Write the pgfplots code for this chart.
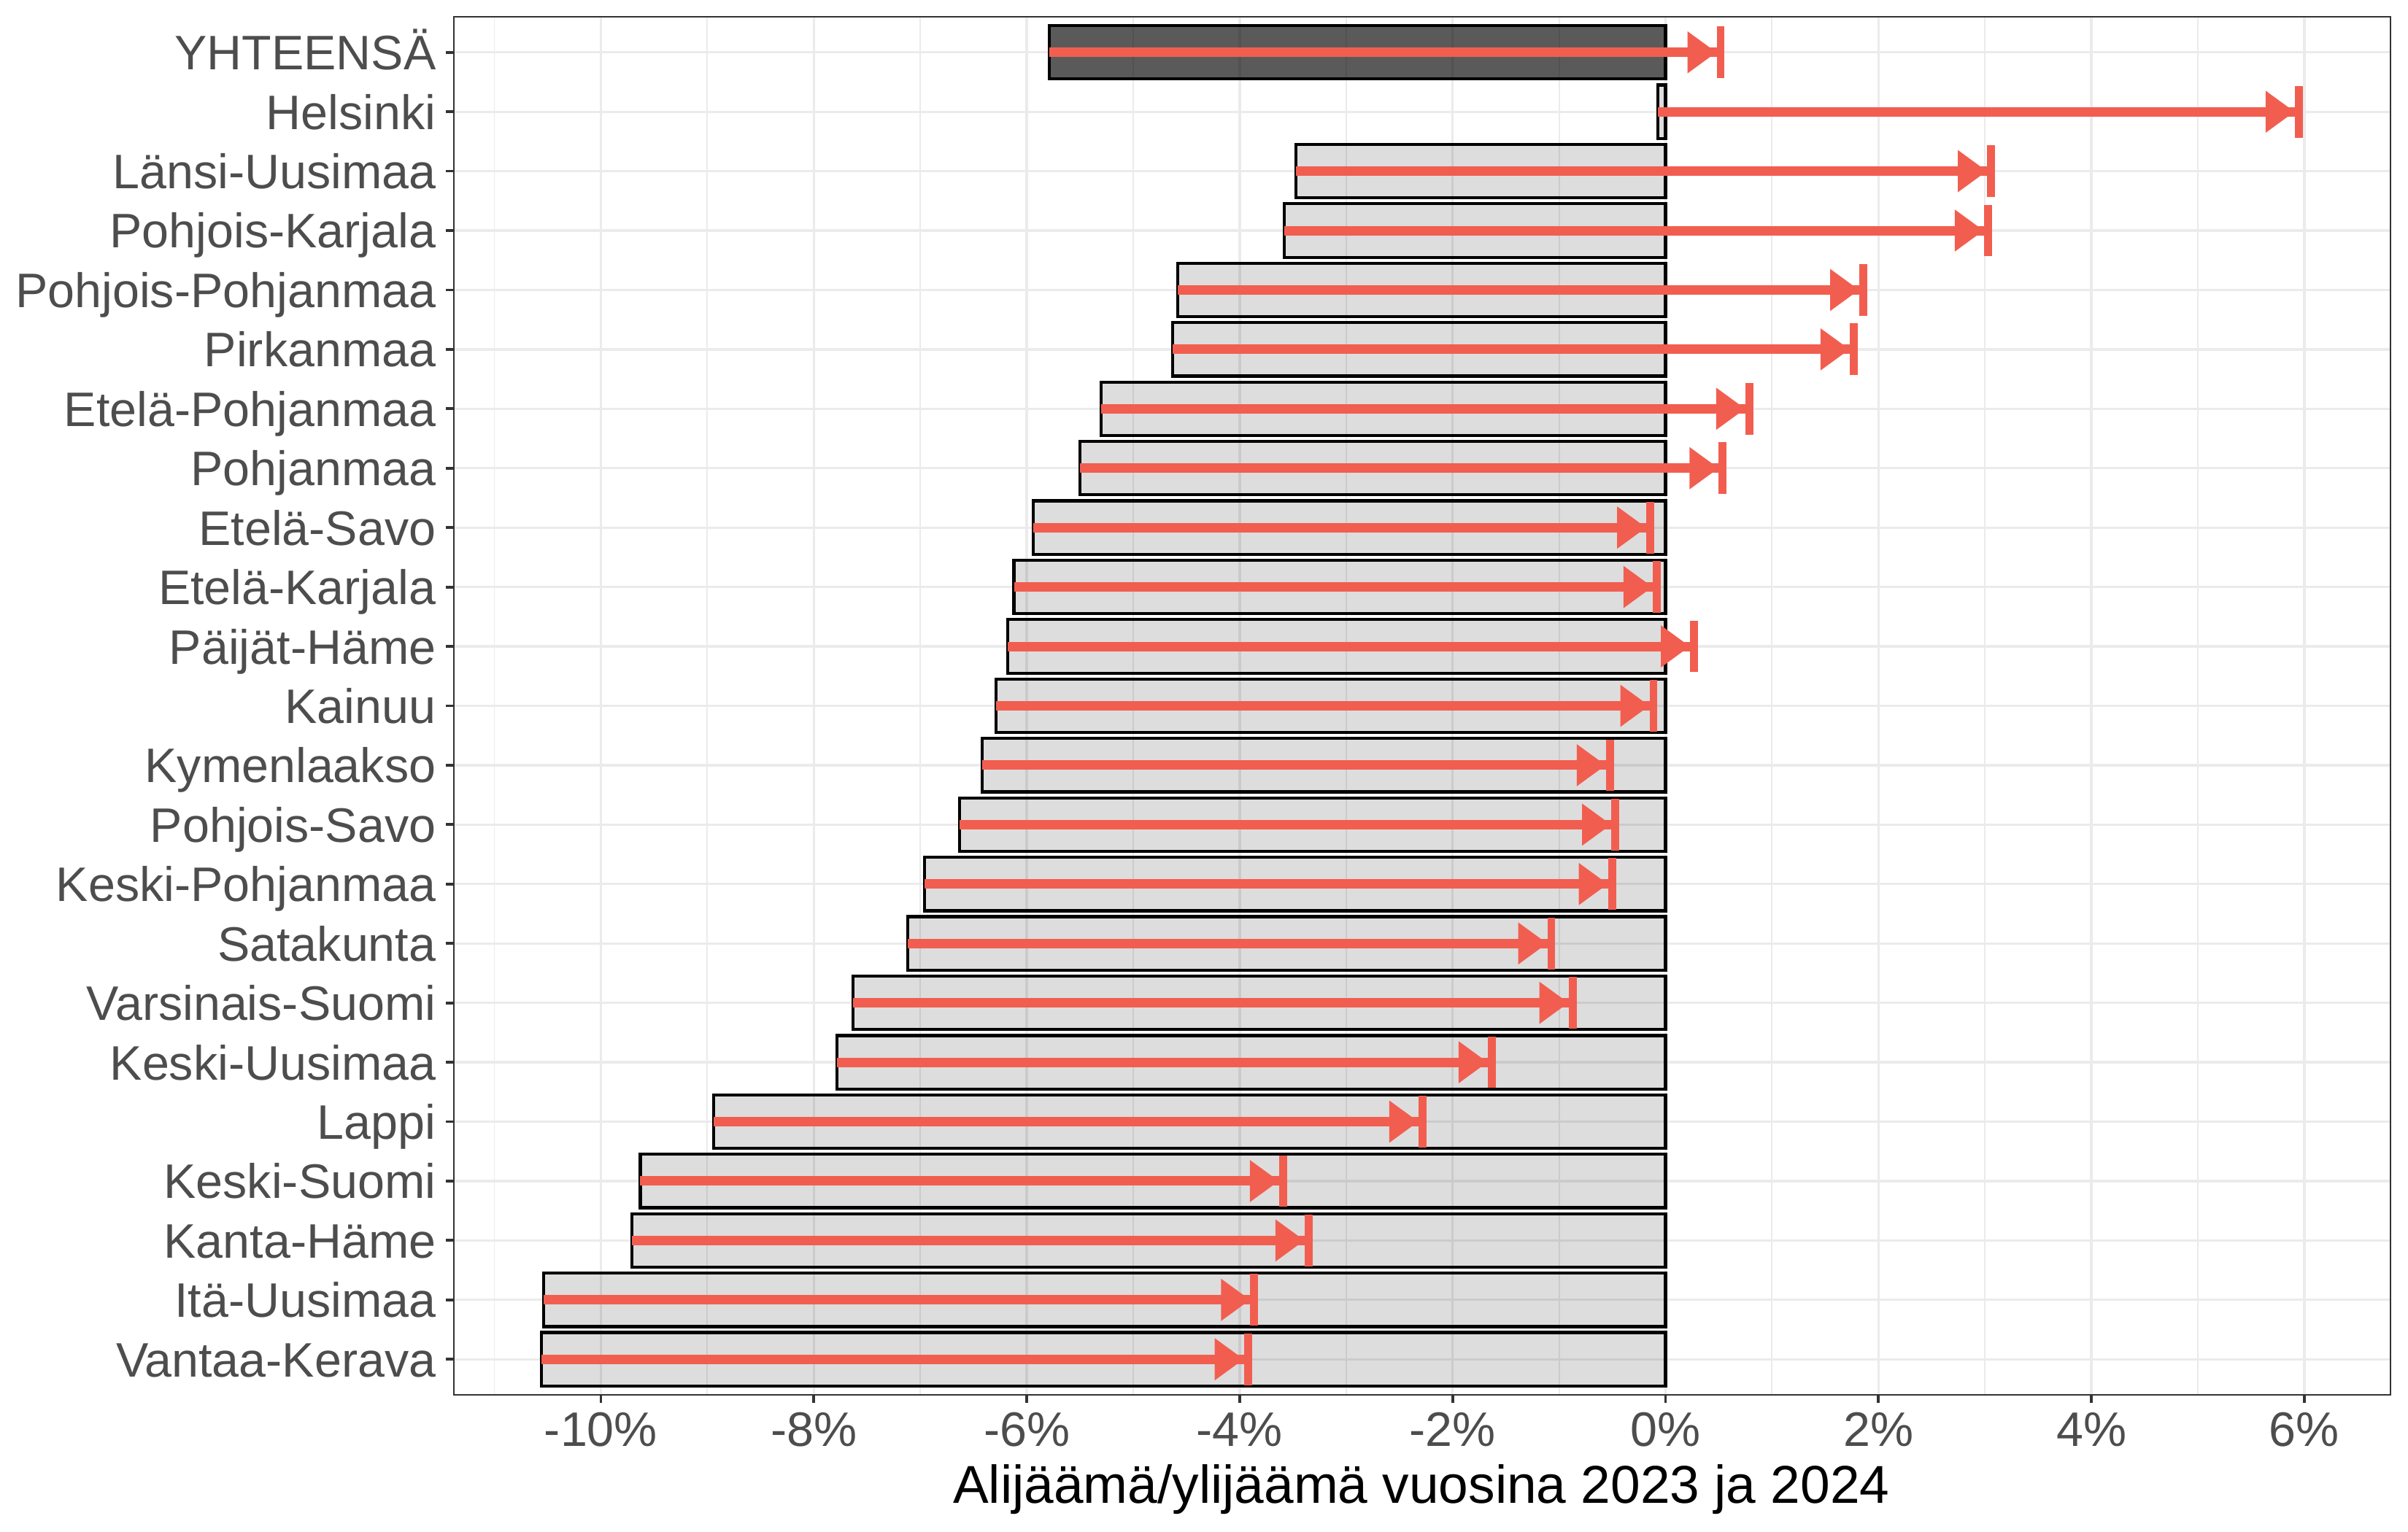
\documentclass[border=0pt]{standalone}
\usepackage{fontspec}
\setmainfont{Liberation Sans}
\usepackage{pgfplots}
\usepackage{pgfplotstable}
\pgfplotsset{compat=1.18}
\usetikzlibrary{arrows.meta}
\definecolor{arr}{RGB}{241,94,80}
\definecolor{gridc}{RGB}{235,235,235}
\definecolor{tickc}{RGB}{51,51,51}
\definecolor{labc}{RGB}{77,77,77}

% y = position (1 = bottom), x0 = 2023, x1 = 2024
\pgfplotstableread{
y x0 x1
1 -10.56 -3.92
2 -10.54 -3.86
3 -9.71 -3.35
4 -9.63 -3.59
5 -8.94 -2.28
6 -7.78 -1.63
7 -7.63 -0.87
8 -7.12 -1.07
9 -6.96 -0.50
10 -6.63 -0.47
11 -6.42 -0.52
12 -6.29 -0.11
13 -6.18 0.27
14 -6.12 -0.08
15 -5.94 -0.14
16 -5.50 0.54
17 -5.30 0.79
18 -4.63 1.77
19 -4.58 1.86
20 -3.58 3.03
21 -3.47 3.06
22 -0.07 5.95
}\regions
\pgfplotstableread{
y x0 x1
23 -5.79 0.52
}\total

\begin{document}
\begin{tikzpicture}
\path[use as bounding box] (0,0) rectangle (792bp,504bp);
\begin{axis}[
  at={(149.3bp,45.1bp)}, anchor=south west,
  scale only axis, width=636.96bp, height=453.4bp,
  xmin=-11.38, xmax=6.81, ymin=0.4, ymax=23.6,
  xtick={-10,-8,-6,-4,-2,0,2,4,6},
  xticklabels={-10\%,-8\%,-6\%,-4\%,-2\%,0\%,2\%,4\%,6\%},
  minor xtick={-11,-9,-7,-5,-3,-1,1,3,5},
  ytick={1,...,23},
  yticklabels={Vantaa-Kerava,Itä-Uusimaa,Kanta-Häme,Keski-Suomi,Lappi,Keski-Uusimaa,Varsinais-Suomi,Satakunta,Keski-Pohjanmaa,Pohjois-Savo,Kymenlaakso,Kainuu,Päijät-Häme,Etelä-Karjala,Etelä-Savo,Pohjanmaa,Etelä-Pohjanmaa,Pirkanmaa,Pohjois-Pohjanmaa,Pohjois-Karjala,Länsi-Uusimaa,Helsinki,YHTEENSÄ},
  tick pos=left, tick align=outside,
  major tick length=2.64bp, minor tick length=0pt,
  tick style={color=tickc, line width=0.9bp},
  axis line style={color=tickc, line width=0.6bp},
  xmajorgrids=true, xminorgrids=true, ymajorgrids=true,
  major grid style={color=gridc, line width=0.8bp},
  minor grid style={color=gridc, line width=0.45bp},
  xticklabel style={font=\fontsize{16}{19}\selectfont, text=labc, inner sep=0pt, anchor=north, text height=11.6bp, text depth=0pt},
  yticklabel style={font=\fontsize{16}{19}\selectfont, text=labc, inner sep=0pt, anchor=east, text height=11.5bp, text depth=0pt},
  xticklabel shift=2.4bp,
  yticklabel shift=3.1bp,
]
\addplot[xbar, bar width=0.9, bar shift=0pt, fill=black, fill opacity=0.133, draw=black, line width=1bp] table[x=x0, y=y] {\regions};
\addplot[xbar, bar width=0.9, bar shift=0pt, fill=black, fill opacity=0.647, draw=black, line width=1bp] table[x=x0, y=y] {\total};
\addplot[arr, line width=3.1bp, shorten >=-1.2bp, quiver={u=\thisrow{x1}-\thisrow{x0}, v=0},
  -{Triangle[length=9.6bp,width=13.2bp]Bar[width=17bp,line width=2.6bp]}] table[x=x0, y=y] {\regions};
\addplot[arr, line width=3.1bp, shorten >=-1.2bp, quiver={u=\thisrow{x1}-\thisrow{x0}, v=0},
  -{Triangle[length=9.6bp,width=13.2bp]Bar[width=17bp,line width=2.6bp]}] table[x=x0, y=y] {\total};
\end{axis}
\node[anchor=base, font=\fontsize{17.6}{21}\selectfont] at (467.5bp,9.6bp) {Alijäämä/ylijäämä vuosina 2023 ja 2024};
\end{tikzpicture}
\end{document}
